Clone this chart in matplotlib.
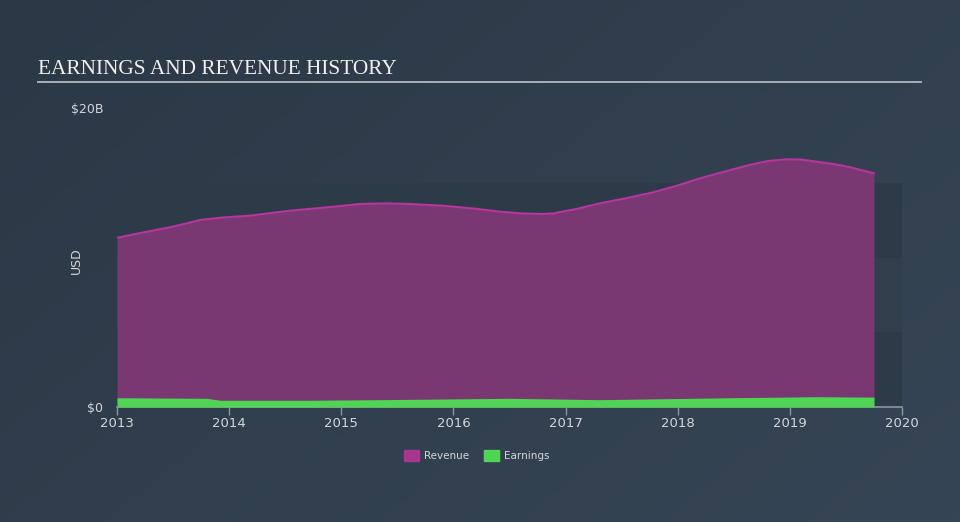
import numpy as np
import matplotlib
matplotlib.use("Agg")
import matplotlib.pyplot as plt
from matplotlib.colors import LinearSegmentedColormap

# Revenue history (USD billions)
rev_years = [2013.0, 2013.25, 2013.47, 2013.62, 2013.74, 2013.95, 2014.19, 2014.54,
             2014.78, 2015.0, 2015.17, 2015.40, 2015.61, 2015.91, 2016.20, 2016.42,
             2016.60, 2016.80, 2016.89, 2017.10, 2017.31, 2017.55, 2017.78, 2018.00,
             2018.20, 2018.42, 2018.64, 2018.80, 2018.97, 2019.10, 2019.24, 2019.40,
             2019.54, 2019.75]
revenue = [11.32, 11.70, 12.02, 12.28, 12.51, 12.68, 12.80, 13.13,
           13.29, 13.45, 13.58, 13.62, 13.58, 13.46, 13.26, 13.06,
           12.95, 12.91, 12.95, 13.25, 13.63, 13.98, 14.36, 14.82,
           15.30, 15.75, 16.19, 16.45, 16.57, 16.55, 16.41, 16.24,
           16.03, 15.63]

# Earnings history (USD billions)
earn_years = [2013.0, 2013.80, 2013.92, 2014.72, 2015.61, 2016.50, 2017.31,
              2018.49, 2019.24, 2019.75]
earnings = [0.62, 0.58, 0.45, 0.45, 0.51, 0.58, 0.49, 0.62, 0.69, 0.66]

year_ticks = [2013, 2014, 2015, 2016, 2017, 2018, 2019, 2020]
y_ticks = [0, 20]
y_labels = ["$0", "$20B"]

text_col = "#d3d7dc"
axis_col = "#8c96a1"

fig = plt.figure(figsize=(9.6, 5.22), dpi=100)

# background gradient
bg = fig.add_axes([0, 0, 1, 1], zorder=-10)
cmap = LinearSegmentedColormap.from_list("bg", ["#2b3846", "#364555"])
gx, gy = np.meshgrid(np.linspace(0, 1, 200), np.linspace(0, 1, 120))
bg.imshow(0.6 * gx + 0.4 * gy, cmap=cmap, aspect="auto", extent=[0, 1, 0, 1],
          origin="upper")
bg.axis("off")

# title and rule
fig.text(38 / 960, 1 - 74 / 522, "EARNINGS AND REVENUE HISTORY", color="#f0f0f0",
         fontsize=15.3, family="Liberation Serif", va="baseline", ha="left")
fig.add_artist(plt.Line2D([38 / 960, 921 / 960], [1 - 82 / 522, 1 - 82 / 522],
                          color="#a9afb7", lw=1.4))

ax = fig.add_axes([117 / 960, 1 - 407 / 522, 785 / 960, 299 / 522])
ax.set_facecolor("none")

# alternating bands
ax.axhspan(10, 15, color="#2d3b49", zorder=0, lw=0)
ax.axhspan(5, 10, color="#313f4d", zorder=0, lw=0)
ax.axhspan(0, 5, color="#2d3b49", zorder=0, lw=0)

ax.fill_between(rev_years, 0, revenue, color="#7a3873", lw=0, zorder=2)
ax.plot(rev_years, revenue, color="#b4369e", lw=1.5, zorder=3)
ax.fill_between(earn_years, 0, earnings, color="#4fd554", lw=0, zorder=4)

ax.set_xlim(2013, 2020)
ax.set_ylim(0, 20)
ax.set_xticks(year_ticks)
ax.set_xticklabels([str(y) for y in year_ticks], color=text_col, fontsize=9.5)
ax.set_yticks(y_ticks)
ax.set_yticklabels(y_labels, color=text_col, fontsize=9)
ax.tick_params(axis="x", length=6, color=axis_col, width=1, pad=1)
ax.tick_params(axis="y", length=0, pad=10)
for s in ["top", "right", "left"]:
    ax.spines[s].set_visible(False)
ax.spines["bottom"].set_color(axis_col)
ax.spines["bottom"].set_linewidth(1.2)
ax.set_ylabel("USD", color=text_col, fontsize=9)
ax.yaxis.set_label_coords(-0.043, 0.49)

# legend
legend_items = [("Revenue", "#a8358f", 404), ("Earnings", "#4fd554", 484)]
for name, col, px in legend_items:
    fig.patches.append(plt.Rectangle((px / 960, 1 - 461 / 522), 15 / 960, 11 / 522,
                                     color=col, transform=fig.transFigure))
    fig.text((px + 20) / 960, 1 - 456 / 522, name, color=text_col, fontsize=7.5,
             va="center", ha="left")

fig.savefig("out.png", dpi=100)
